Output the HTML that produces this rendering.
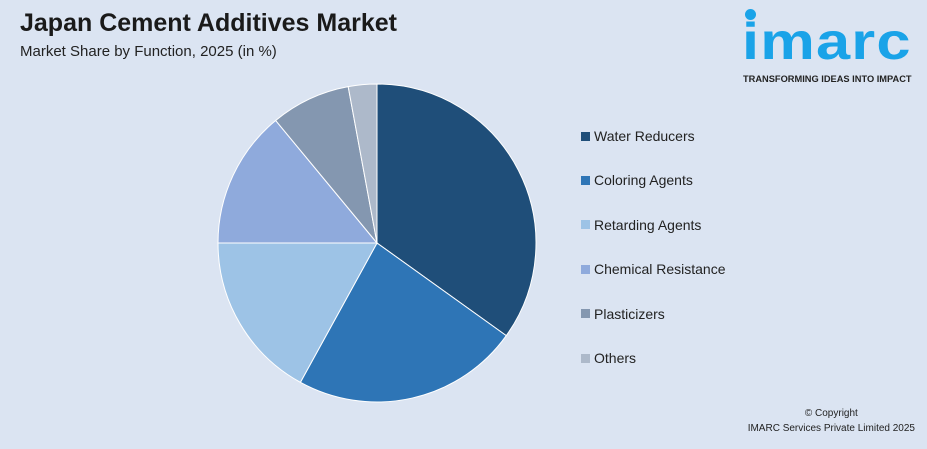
<!DOCTYPE html>
<html><head><meta charset="utf-8"><style>
body{margin:0;width:927px;height:449px;background:#dbe4f2;font-family:"Liberation Sans",sans-serif;position:relative;overflow:hidden}
.t{position:absolute;left:20px;top:9px;font-size:25px;font-weight:bold;color:#1a1a1a}
.s{position:absolute;left:20px;top:43px;font-size:15px;color:#222}
.lg{position:absolute;left:581px;font-size:14px;color:#222;display:flex;align-items:center}
.lg i{display:inline-block;width:9px;height:9px;margin-right:4px}
.cp{position:absolute;right:12px;top:406px;font-size:10px;color:#222;text-align:center;line-height:15px}
</style></head><body>
<div class="t">Japan Cement Additives Market</div>
<div class="s">Market Share by Function, 2025 (in %)</div>
<div style="position:absolute;left:742px;top:4px;width:180px;height:82px">
<div style="position:absolute;left:3px;top:5px;width:11px;height:11px;border-radius:50%;background:#1aa3e8"></div>
<div style="position:absolute;left:0;top:8px;font-size:52px;font-weight:bold;color:#1aa3e8;letter-spacing:1px;transform:scaleX(1.18);transform-origin:left">imarc</div>
<div style="position:absolute;left:1px;top:70px;font-size:9px;font-weight:bold;color:#222;white-space:nowrap;transform:scaleX(1.03);transform-origin:left">TRANSFORMING IDEAS INTO IMPACT</div>
</div>
<svg id="pie" width="927" height="449" style="position:absolute;left:0;top:0"></svg>
<div id="legend"></div>
<div class="cp">© Copyright<br>IMARC Services Private Limited 2025</div>
<script>
const categories=["Water Reducers","Coloring Agents","Retarding Agents","Chemical Resistance","Plasticizers","Others"];
const values=[34.9,23.1,17.0,14.0,8.1,2.9];
const colors=["#1f4e79","#2e75b6","#9dc3e6","#8faadc","#8497b0","#adb9ca"];
const cx=377,cy=243,r=159;
const svg=document.getElementById('pie');
const total=values.reduce((a,b)=>a+b,0);
let acc=0;
function pt(f){const a=f*2*Math.PI;return [cx+r*Math.sin(a),cy-r*Math.cos(a)];}
values.forEach((v,i)=>{
 const f0=acc/total;acc+=v;const f1=acc/total;
 const [x0,y0]=pt(f0),[x1,y1]=pt(f1);
 const p=document.createElementNS('http://www.w3.org/2000/svg','path');
 p.setAttribute('d',`M${cx},${cy}L${x0},${y0}A${r},${r} 0 ${f1-f0>0.5?1:0} 1 ${x1},${y1}Z`);
 p.setAttribute('fill',colors[i]);p.setAttribute('stroke','#fff');p.setAttribute('stroke-width','1');
 
 
 svg.appendChild(p);
});
const lg=document.getElementById('legend');
categories.forEach((c,i)=>{
 const d=document.createElement('div');d.className='lg';d.style.top=(128+i*44.4)+'px';
 d.innerHTML='<i style="background:'+colors[i]+'"></i>'+c;
 
 
 lg.appendChild(d);
});
</script>
</body></html>
